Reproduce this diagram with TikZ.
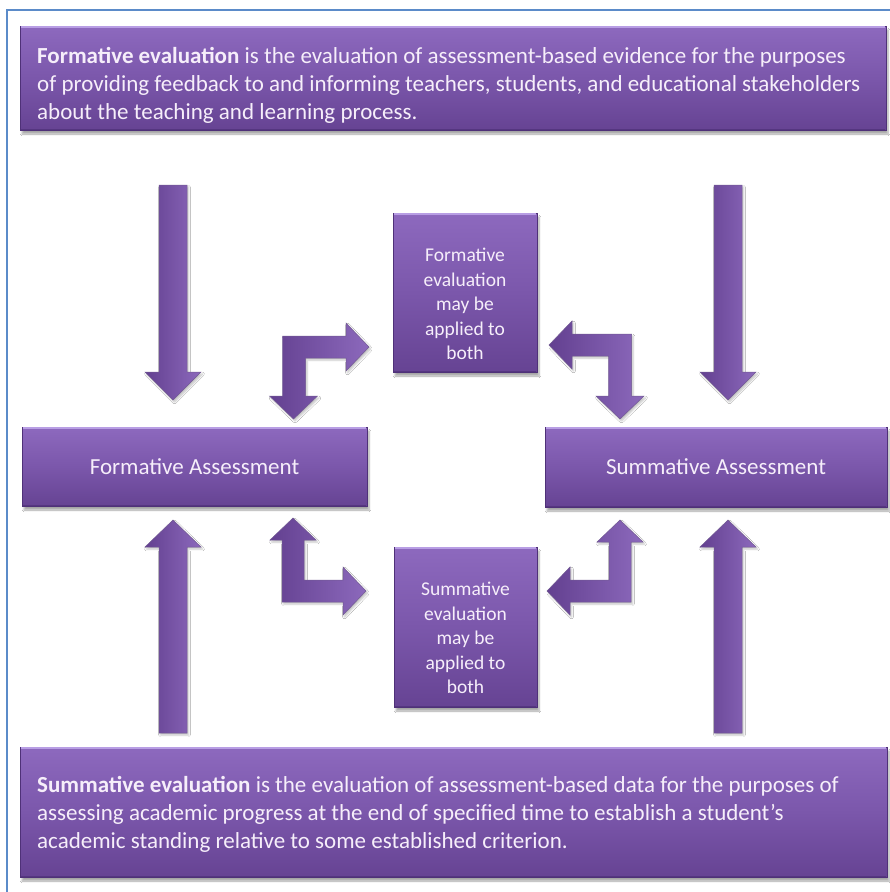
\documentclass[tikz,border=0pt]{standalone}
\usepackage{fontspec}
\setmainfont{Carlito}
\usetikzlibrary{shadows.blur}
\definecolor{frameblue}{HTML}{5B8BC9}
\definecolor{ptop}{HTML}{8D69BE}
\definecolor{pmid}{HTML}{7B57AB}
\definecolor{pbot}{HTML}{664393}
\definecolor{phigh}{HTML}{B89EE4}
\definecolor{pdark}{HTML}{4F3178}
\definecolor{ptext}{HTML}{F6EEFA}
\definecolor{aleft}{HTML}{634090}
\definecolor{aright}{HTML}{8C69BC}
\tikzset{
  pbox/.style={rectangle, inner sep=0pt, top color=ptop, bottom color=pbot, middle color=pmid,
    draw=pdark, line width=0.6pt,
    blur shadow={shadow xshift=2pt, shadow yshift=-4pt, shadow blur steps=6, shadow opacity=35}},
  ptxt/.style={text=ptext, font=\fontsize{23}{28}\selectfont, inner sep=0pt, align=left},
  lbltxt/.style={text=ptext, font=\fontsize{23}{28}\selectfont, inner sep=0pt, align=center},
  btxt/.style={text=ptext, font=\fontsize{19.5}{24.5}\selectfont, inner sep=0pt, align=center},
  parrow/.style={left color=aleft, right color=aright, draw=pdark!80, line width=0.5pt,
    blur shadow={shadow xshift=1.5pt, shadow yshift=-2pt, shadow blur steps=4, shadow opacity=25}},
}
\newcommand{\bevel}[1]{%
  \draw[phigh, line width=2pt] ([xshift=1.5pt,yshift=-1.5pt]#1.north west) -- ([xshift=-1.5pt,yshift=-1.5pt]#1.north east);
  \draw[pdark, line width=1.5pt, opacity=0.7] ([xshift=1pt,yshift=1pt]#1.south west) -- ([xshift=-1pt,yshift=1pt]#1.south east);
}
\begin{document}
\begin{tikzpicture}[x=1pt, y=-1pt]
\useasboundingbox[fill=white] (0,0) rectangle (890,892);
% frame
\draw[frameblue, line width=1.6pt] (7,892) -- (7,10) -- (890,10);

% boxes
\node[pbox, minimum width=866pt, minimum height=104pt] (fe) at (453,78) {};
\node[pbox, minimum width=867pt, minimum height=130pt] (se) at (453.5,812) {};
\node[pbox, minimum width=345pt, minimum height=79pt] (fa) at (194.5,466.5) {};
\node[pbox, minimum width=342pt, minimum height=80pt] (sa) at (716,467) {};
\node[pbox, minimum width=144pt, minimum height=159pt] (fboth) at (465,292.5) {};
\node[pbox, minimum width=143pt, minimum height=160pt] (sboth) at (465.5,627) {};
\bevel{fe}\bevel{se}\bevel{fa}\bevel{sa}\bevel{fboth}\bevel{sboth}

% texts
\node[ptxt, anchor=west] (fetext) at (37,85) {\textbf{Formative evaluation} is the evaluation of assessment-based evidence for the purposes\\of providing feedback to and informing teachers, students, and educational stakeholders\\about the teaching and learning process.};
\node[ptxt, anchor=west] (setext) at (37,814) {\textbf{Summative evaluation} is the evaluation of assessment-based data for the purposes of\\assessing academic progress at the end of specified time to establish a student’s\\academic standing relative to some established criterion.};
\node[lbltxt] (fatext) at (fa) {Formative Assessment};
\node[lbltxt] (satext) at (sa) {Summative Assessment};
\node[btxt] (fbtext) at (465,304) {Formative\\evaluation\\may be\\applied to\\both};
\node[btxt] (sbtext) at (465.5,638) {Summative\\evaluation\\may be\\applied to\\both};

% straight arrows
\draw[parrow] (159,185) -- (187,185) -- (187,372) -- (201,372) -- (173,400) -- (145,372) -- (159,372) -- cycle;
\draw[parrow] (714,185) -- (742,185) -- (742,372) -- (756,372) -- (728,400) -- (700,372) -- (714,372) -- cycle;
\draw[parrow] (159,733) -- (159,547) -- (145,547) -- (173,520) -- (201,547) -- (187,547) -- (187,733) -- cycle;
\draw[parrow] (714,733) -- (714,547) -- (700,547) -- (728,520) -- (756,547) -- (742,547) -- (742,733) -- cycle;

% bent arrows
\draw[parrow] (282.5,336) -- (346,336) -- (346,323) -- (369,347) -- (346,371) -- (346,358) -- (305.5,358) -- (305.5,396) -- (317.5,396) -- (293.5,419) -- (269.5,396) -- (282.5,396) -- cycle;
\draw[parrow] (631.5,334) -- (631.5,396) -- (644,396) -- (620,419) -- (596,396) -- (608.5,396) -- (608.5,356) -- (572,356) -- (572,369) -- (549,345) -- (572,321) -- (572,334) -- cycle;
\draw[parrow] (282,602) -- (282,540) -- (270,540) -- (293,518) -- (316,540) -- (304,540) -- (304,580) -- (343,580) -- (343,567) -- (366,591) -- (343,615) -- (343,602) -- cycle;
\draw[parrow] (631,602) -- (631,542) -- (643,542) -- (620,520) -- (597,542) -- (609,542) -- (609,580) -- (570,580) -- (570,567) -- (547,591) -- (570,615) -- (570,602) -- cycle;
\end{tikzpicture}
\end{document}
